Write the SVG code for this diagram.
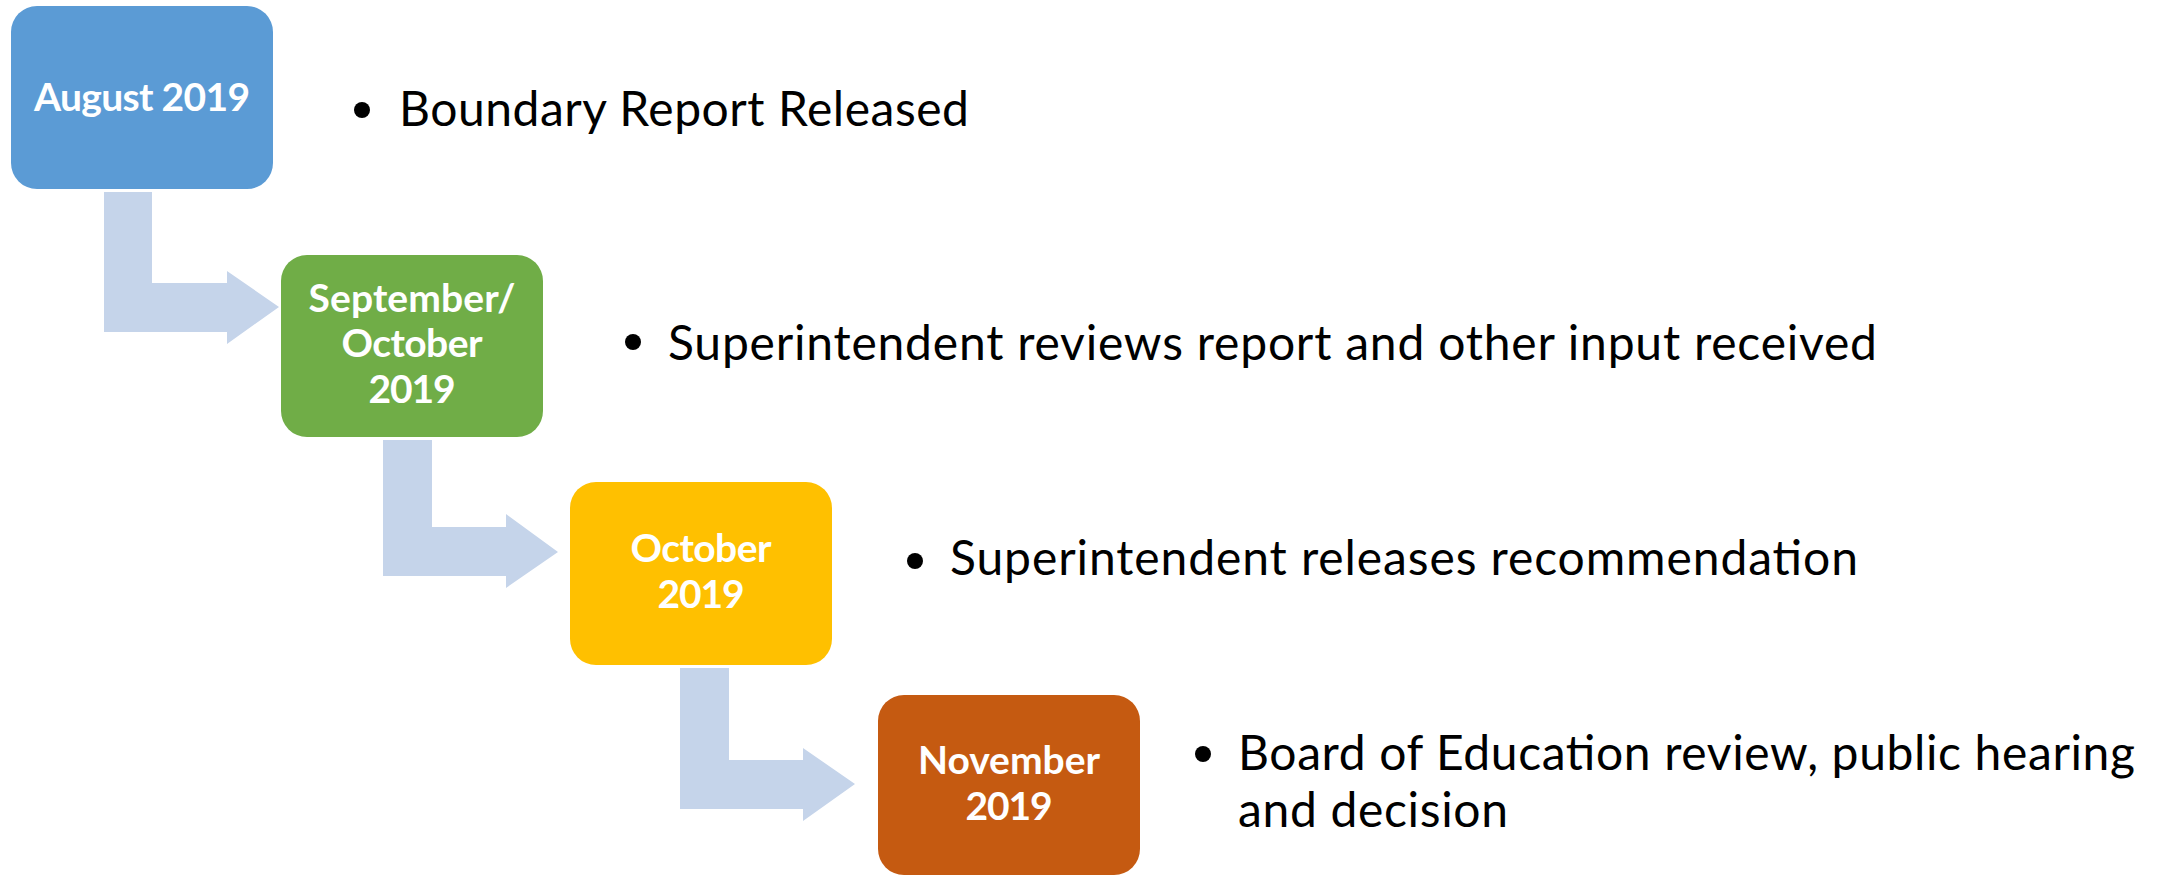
<svg xmlns="http://www.w3.org/2000/svg" width="2164" height="876" viewBox="0 0 2164 876">
<style>
.box text{font-family:Lato,"Liberation Sans",sans-serif;font-weight:bold;font-size:39px;fill:#fff;text-anchor:middle}
.desc{font-family:Lato,"Liberation Sans",sans-serif;font-size:48px;fill:#000}
.arrow{fill:#C5D4EA}
</style>
<rect width="2164" height="876" fill="#fff"/>
<g id="connectors">
<path class="arrow" d="M104 192 H152 V283 H227 V271 L279 307 L227 344 V332 H104 Z"/>
<path class="arrow" d="M383 440 H432 V527 H506 V514 L558 552 L506 588 V576 H383 Z"/>
<path class="arrow" d="M680 668 H729 V760 H803 V748 L855 784 L803 821 V809 H680 Z"/>
</g>
<g id="node-aug" class="box">
<rect x="11" y="6" width="262" height="183" rx="26" fill="#5B9BD5"/>
<text x="142" y="111" textLength="216">August 2019</text>
</g>
<g id="node-sep" class="box">
<rect x="281" y="255" width="262" height="182" rx="26" fill="#70AD47"/>
<text x="412" y="312" textLength="207">September/</text>
<text x="412" y="357" textLength="141">October</text>
<text x="412" y="403" textLength="87">2019</text>
</g>
<g id="node-oct" class="box">
<rect x="570" y="482" width="262" height="183" rx="26" fill="#FFC000"/>
<text x="701" y="562" textLength="141">October</text>
<text x="701" y="608" textLength="87">2019</text>
</g>
<g id="node-nov" class="box">
<rect x="878" y="695" width="262" height="180" rx="26" fill="#C55A11"/>
<text x="1009" y="774" textLength="182">November</text>
<text x="1009" y="820" textLength="87">2019</text>
</g>
<g id="desc-aug">
<circle cx="362" cy="110" r="8"/>
<text class="desc" x="399" y="126" textLength="570">Boundary Report Released</text>
</g>
<g id="desc-sep">
<circle cx="633" cy="342" r="8"/>
<text class="desc" x="668" y="360" textLength="1209">Superintendent reviews report and other input received</text>
</g>
<g id="desc-oct">
<circle cx="915" cy="561" r="8"/>
<text class="desc" x="950" y="575" textLength="908">Superintendent releases recommendation</text>
</g>
<g id="desc-nov">
<circle cx="1203" cy="754" r="8"/>
<text class="desc" x="1238" y="770" textLength="897">Board of Education review, public hearing</text>
<text class="desc" x="1238" y="827" textLength="270">and decision</text>
</g>
</svg>
